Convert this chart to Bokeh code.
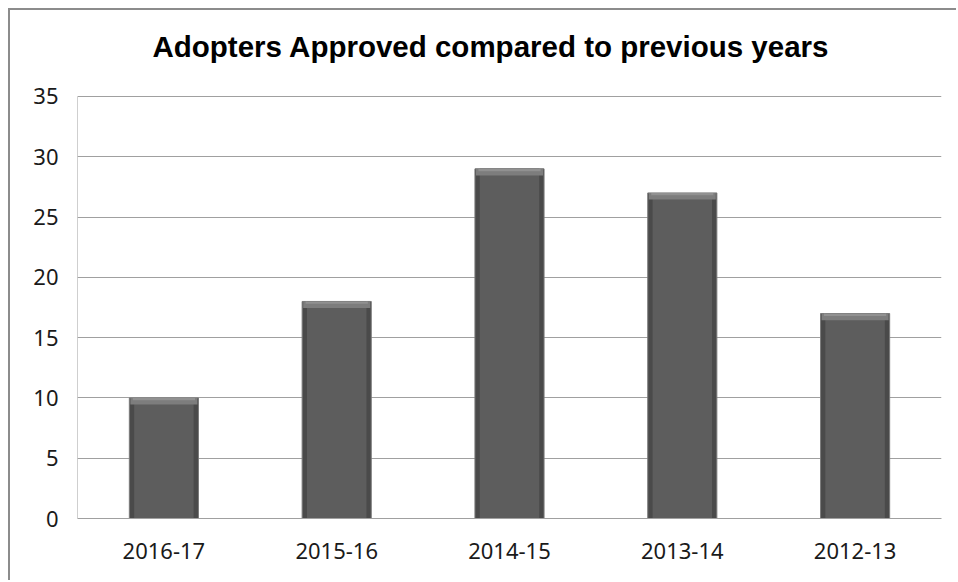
from bokeh.plotting import figure
from bokeh.models import Label, FixedTicker, Range1d
from bokeh.embed import file_html
from bokeh.resources import INLINE

categories = ["2016-17", "2015-16", "2014-15", "2013-14", "2012-13"]
approved = [10, 18, 29, 27, 17]
y_ticks = [0, 5, 10, 15, 20, 25, 30, 35]
title_text = "Adopters Approved compared to previous years"

# frame extends above the 35 line so the title can sit inside it
p = figure(x_range=categories, y_range=Range1d(0, 41.30), width=948, height=572,
           output_backend="svg", toolbar_location=None,
           min_border_left=67, min_border_top=10, min_border_right=17, min_border_bottom=64)
p.styles = {"border-top": "2px solid #8c8c8c", "border-left": "2px solid #8c8c8c",
            "margin-left": "8px", "margin-top": "8px"}
p.outline_line_color = None
p.background_fill_color = "white"
p.border_fill_color = "white"

# bars with bevel look
bw = 0.40
p.vbar(x=categories, top=approved, width=bw, fill_color="#4a4a4a", line_color="#7a7a7a", line_width=1)
p.vbar(x=categories, top=approved, width=bw * 0.86, fill_color="#5d5d5d", line_color=None)
p.vbar(x=categories, top=approved, bottom=[v - 0.55 for v in approved], width=bw * 0.97,
       fill_color="#7d7d7d", line_color=None)
p.vbar(x=categories, top=approved, bottom=[v - 0.2 for v in approved], width=bw * 0.9,
       fill_color="#919191", line_color=None)

p.xgrid.grid_line_color = None
p.ygrid.grid_line_color = "#a0a0a0"
p.ygrid.grid_line_width = 1
p.yaxis.ticker = FixedTicker(ticks=y_ticks)
for ax in (p.xaxis, p.yaxis):
    ax.axis_line_color = "#a0a0a0"
    ax.major_tick_line_color = None
    ax.minor_tick_line_color = None
    ax.major_label_text_font = "Noto Sans"
    ax.major_label_text_font_size = "22px"
    ax.major_label_text_color = "#1a1a1a"
p.yaxis.axis_line_color = None
p.yaxis.major_label_standoff = 13
p.xaxis.major_label_standoff = 18

# left axis line only up to the top tick
p.segment(x0=[0], y0=[y_ticks[0]], x1=[0], y1=[y_ticks[-1]], line_color="#a0a0a0", line_width=1)

title = Label(x=0.434, y=39.15, text=title_text, text_align="left", text_baseline="alphabetic",
              text_font="Liberation Sans", text_font_size="29.5px", text_font_style="bold",
              text_color="#000000")
p.add_layout(title)

open("out.html", "w").write(file_html(p, INLINE))
